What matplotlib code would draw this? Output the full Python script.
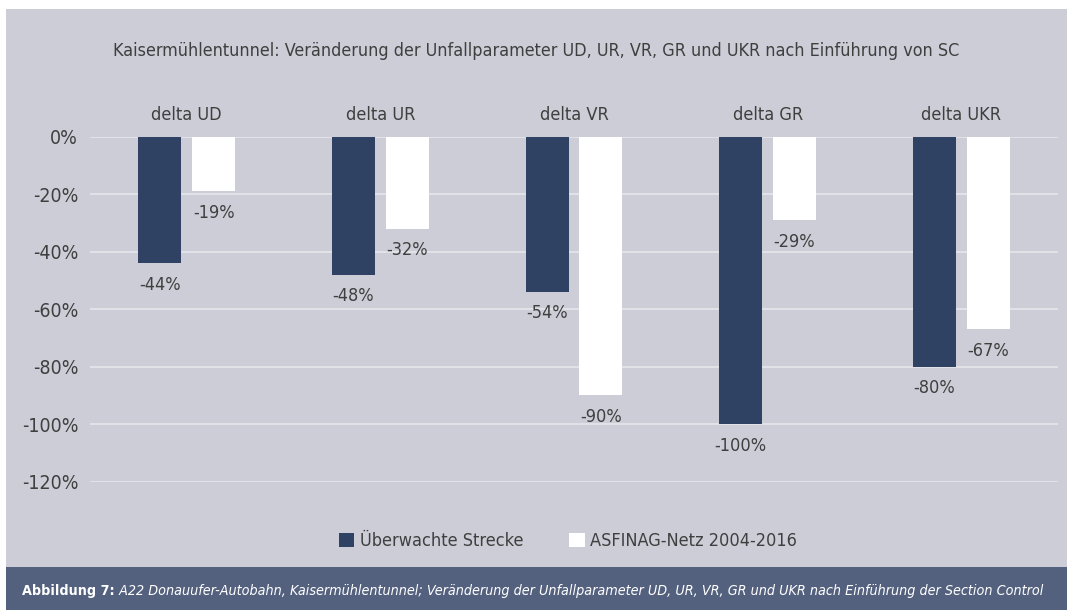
import matplotlib
matplotlib.use("Agg")
import matplotlib.pyplot as plt
from matplotlib.patches import Rectangle
import numpy as np

plt.rcParams['font.family'] = ['DejaVu Sans']
plt.rcParams['font.stretch'] = 'condensed'

categories = ["delta UD", "delta UR", "delta VR", "delta GR", "delta UKR"]
ueberwacht = [-44, -48, -54, -100, -80]
asfinag = [-19, -32, -90, -29, -67]
series_names = ["Überwachte Strecke", "ASFINAG-Netz 2004-2016"]
yticks = [0, -20, -40, -60, -80, -100, -120]
title = "Kaisermühlentunnel: Veränderung der Unfallparameter UD, UR, VR, GR und UKR nach Einführung von SC"
caption_bold = "Abbildung 7:"
caption_italic = " A22 Donauufer-Autobahn, Kaisermühlentunnel; Veränderung der Unfallparameter UD, UR, VR, GR und UKR nach Einführung der Section Control"

W, H = 1067, 610
fig = plt.figure(figsize=(W / 100, H / 100), dpi=100)
fig.patch.set_facecolor("white")

panel_col = "#cccdd7"
band_col = "#54617e"
dark_col = "#2f4264"
text_col = "#3f3f3f"
grid_col = "#e4e4ea"

# background panel and caption band
fig.patches.append(Rectangle((6 / W, (H - 567) / H), 1 - 6 / W, (567 - 9) / H,
                             transform=fig.transFigure, facecolor=panel_col, edgecolor="none", zorder=-10))
fig.patches.append(Rectangle((6 / W, 0), 1 - 6 / W, (H - 567) / H,
                             transform=fig.transFigure, facecolor=band_col, edgecolor="none", zorder=-10))

left, right = 90 / W, 1058 / W
top, bottom = 1 - 136.7 / H, 1 - 481.7 / H
ax = fig.add_axes([left, bottom, right - left, top - bottom])
ax.set_facecolor("none")
ax.set_zorder(1)

x = np.arange(len(categories))
bw = 0.222
off = 0.139
b1 = ax.bar(x - off, ueberwacht, bw, color=dark_col, zorder=3, label=series_names[0])
b2 = ax.bar(x + off, asfinag, bw, color="white", zorder=3, label=series_names[1])

for xi, v in zip(x - off, ueberwacht):
    ax.annotate(f"{v}%", (xi, v), xytext=(0, -9), textcoords="offset points",
                ha="center", va="top", fontsize=13, color=text_col)
for xi, v in zip(x + off, asfinag):
    ax.annotate(f"{v}%", (xi, v), xytext=(0, -9), textcoords="offset points",
                ha="center", va="top", fontsize=13, color=text_col)

ax.set_xlim(-0.5, len(categories) - 0.5)
ax.set_ylim(-120, 0)
ax.set_yticks(yticks)
ax.set_yticklabels([f"{t}%" for t in yticks], fontsize=14, color=text_col)
ax.grid(axis="y", color=grid_col, linewidth=1.3, zorder=0)
ax.set_axisbelow(True)
for s in ax.spines.values():
    s.set_visible(False)
ax.tick_params(axis="y", length=0, pad=8.5)
ax.xaxis.tick_top()
ax.set_xticks(x)
ax.set_xticklabels(categories, fontsize=13, color=text_col)
ax.tick_params(axis="x", length=0, pad=9)

fig.text(536.5 / W, 1 - 51 / H, title, ha="center", va="center", fontsize=12.9, color=text_col)

leg = fig.legend(handles=[b1, b2], labels=series_names, loc="center",
                 bbox_to_anchor=(568 / W, 1 - 541 / H), ncol=2, frameon=False,
                 fontsize=13, handlelength=0.85, handleheight=0.85,
                 handletextpad=0.3, columnspacing=2.55, labelcolor=text_col)

cb = fig.text(22 / W, 1 - 591 / H, caption_bold, ha="left", va="center", fontsize=10.3,
              color="white", fontweight="bold")
fig.canvas.draw()
rend = fig.canvas.get_renderer()
bb = cb.get_window_extent(rend)
fig.text(bb.x1 / W, 1 - 591 / H, caption_italic, ha="left", va="center", fontsize=10.3,
         color="white", fontstyle="italic")

fig.savefig("out.png", dpi=100)
